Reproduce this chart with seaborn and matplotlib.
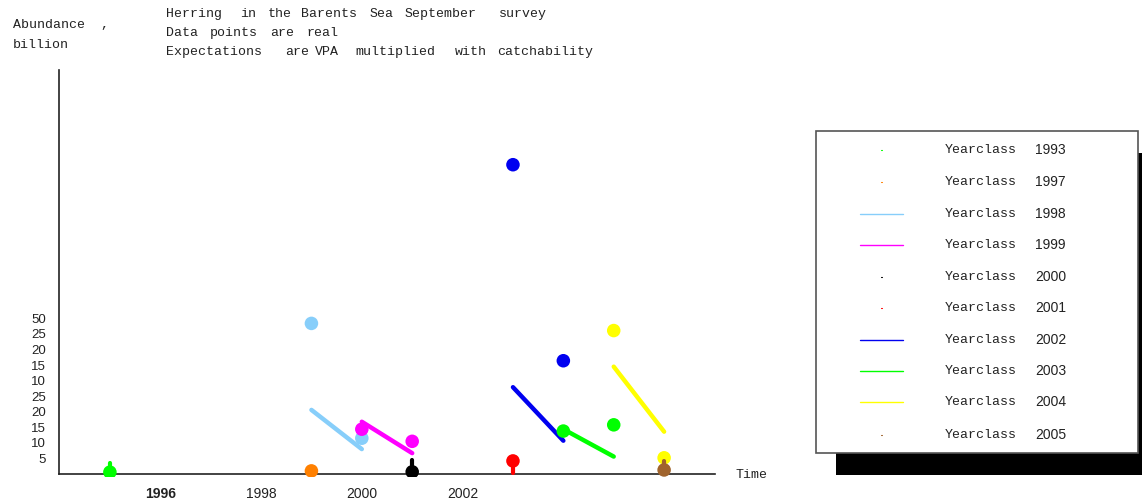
import matplotlib
matplotlib.use("Agg")
import matplotlib.pyplot as plt
from matplotlib.patches import Rectangle
from matplotlib.lines import Line2D
from matplotlib.transforms import Bbox
import numpy as np
import pandas as pd
import seaborn as sns

# ---- data -------------------------------------------------------------
yearclasses = [1993, 1997, 1998, 1999, 2000, 2001, 2002, 2003, 2004, 2005]
colors = ["#00FF00", "#FF8000", "#87CEFA", "#FF00FF", "#000000",
          "#FF0000", "#0000F0", "#00FF00", "#FFFF00", "#A0642D"]

# survey observations (survey year, abundance) per yearclass
obs_years = [[1995], [1999], [1999, 2000], [2000, 2001], [2001],
             [2003], [2003, 2004], [2004, 2005], [2005, 2006], [2006]]
obs_values = [[0.6], [1.0], [48.4, 11.5], [14.4, 10.5], [0.7],
              [4.2], [99.4, 36.4], [13.8, 15.8], [46.1, 5.2], [1.3]]

# expectations (VPA x catchability) per yearclass
exp_years = [[1995], [1999], [1999, 2000], [2000, 2001], [2001],
             [2003], [2003, 2004], [2004, 2005], [2005, 2006], [2006]]
exp_values = [[3.6], [1.0], [20.6, 8.0], [16.8, 6.7], [4.5],
              [0.2], [27.9, 10.7], [14.4, 5.6], [34.5, 13.6], [4.3]]

y_tick_pos = [5, 10, 15, 20, 25, 30, 35, 40, 45, 50]
y_tick_labels = ["5", "10", "15", "20", "25", "10", "15", "20", "25", "50"]
x_ticks = [1996, 1998, 2000, 2002]

# ---- tables -------------------------------------------------------------
obs_df = pd.DataFrame(
    [(yc, x, v) for yc, xs, vs in zip(yearclasses, obs_years, obs_values)
     for x, v in zip(xs, vs)],
    columns=["yearclass", "year", "abundance"])
exp_df = pd.DataFrame(
    [(yc, x, v) for yc, xs, vs in zip(yearclasses, exp_years, exp_values)
     for x, v in zip(xs, vs)],
    columns=["yearclass", "year", "expected"])
n_pts = exp_df.groupby("yearclass")["year"].transform("size")
exp_lines = exp_df[n_pts > 1]
exp_single = exp_df[n_pts == 1].merge(obs_df, on=["yearclass", "year"])

palette = dict(zip(yearclasses, colors))

# ---- figure -------------------------------------------------------------
sns.set_style("white")
plt.rcParams["font.family"] = ["Liberation Sans", "DejaVu Sans"]

W, H = 1142, 504
fig = plt.figure(figsize=(W / 100, H / 100), dpi=100)
ax = fig.add_axes([58.5 / W, 1 - 474 / H, (715 - 58.5) / W, (474 - 69.5) / H])

sns.lineplot(data=exp_lines, x="year", y="expected", hue="yearclass",
             palette={k: palette[k] for k in exp_lines["yearclass"].unique()},
             estimator=None, linewidth=3.2, legend=False, ax=ax, zorder=2)
for ln in ax.lines:
    ln.set_solid_capstyle("round")

sns.scatterplot(data=obs_df, x="year", y="abundance", hue="yearclass",
                palette=palette, s=95, edgecolor="none", linewidth=0,
                legend=False, ax=ax, zorder=3)

stems = ax.vlines(exp_single["year"], exp_single["abundance"],
                  exp_single["expected"],
                  colors=[palette[k] for k in exp_single["yearclass"]],
                  linewidth=3.0, zorder=4)
stems.set_capstyle("round")

ax.set_xlim(1993.98, 2007.01)
ax.set_ylim(0, 130.0)

# markers sitting on the baseline may spill a few pixels below it
x0, y0, x1, y1 = ax.bbox.extents
dots_clip = Bbox.from_extents(x0, y0 - 3, x1, y1)
for coll in ax.collections:
    coll.set_clip_box(dots_clip)

ax.set_xticks(x_ticks)
ax.set_xticklabels([str(t) for t in x_ticks], fontsize=10)
ax.get_xticklabels()[0].set_fontweight("bold")
ax.set_yticks(y_tick_pos)
ax.set_yticklabels(y_tick_labels, fontsize=9.5)
ax.tick_params(axis="both", direction="in", length=4, width=1, color="#222222",
               labelcolor="#222222")
ax.tick_params(axis="x", pad=9)
ax.tick_params(axis="y", pad=9)
ax.set_xlabel("")
ax.set_ylabel("")
for side in ("top", "right"):
    ax.spines[side].set_visible(False)
for side in ("left", "bottom"):
    ax.spines[side].set_color("#222222")
    ax.spines[side].set_linewidth(1.2)
    ax.spines[side].set_zorder(1)


def fx(px):
    return px / W


def fy(py):
    return 1 - py / H


mono = "Liberation Mono"
txt = dict(family=mono, fontsize=9.5, color="#222222", va="center", ha="left")

fig.text(fx(13), fy(25), "Abundance  ,", **txt)
fig.text(fx(13), fy(45), "billion", **txt)
fig.text(fx(735), fy(475), "Time", **txt)

title_lines = [
    (14, [(166, "Herring"), (240, "in"), (268, "the"), (301, "Barents"),
          (370, "Sea"), (405, "September"), (499, "survey")]),
    (33, [(166, "Data"), (210, "points"), (270, "are"), (306, "real")]),
    (52, [(166, "Expectations"), (285, "are"), (315, "VPA"),
          (355, "multiplied"), (455, "with"), (497, "catchability")]),
]
for py, words in title_lines:
    for px, w in words:
        fig.text(fx(px), fy(py), w, **txt)

# ---- legend box with drop shadow ---------------------------------------
fig.add_artist(Rectangle((fx(836), fy(475)), fx(1170 - 836), (475 - 153) / H,
                         transform=fig.transFigure, facecolor="black",
                         edgecolor="none", zorder=1))
fig.add_artist(Rectangle((fx(816), fy(453)), fx(1138 - 816), (453 - 131) / H,
                         transform=fig.transFigure, facecolor="white",
                         edgecolor="#555555", linewidth=1.2, zorder=2))

row_y = [150, 182, 214, 245, 277, 308, 340, 371, 402, 435]
line_classes = set(exp_lines["yearclass"].unique())
for yc, col, py in zip(yearclasses, colors, row_y):
    if yc in line_classes:
        fig.add_artist(Line2D([fx(860), fx(903)], [fy(py), fy(py)],
                              transform=fig.transFigure, color=col,
                              linewidth=1.0, zorder=3))
    else:
        fig.add_artist(Line2D([fx(881), fx(882)], [fy(py), fy(py)],
                              transform=fig.transFigure, color=col,
                              linewidth=0.8, zorder=3))
    fig.text(fx(945), fy(py), "Yearclass", family=mono, fontsize=9.5,
             color="#222222", va="center", ha="left", zorder=3)
    fig.text(fx(1035), fy(py), str(yc), fontsize=10, color="#222222",
             va="center", ha="left", zorder=3)

fig.savefig("out.png", dpi=100)
